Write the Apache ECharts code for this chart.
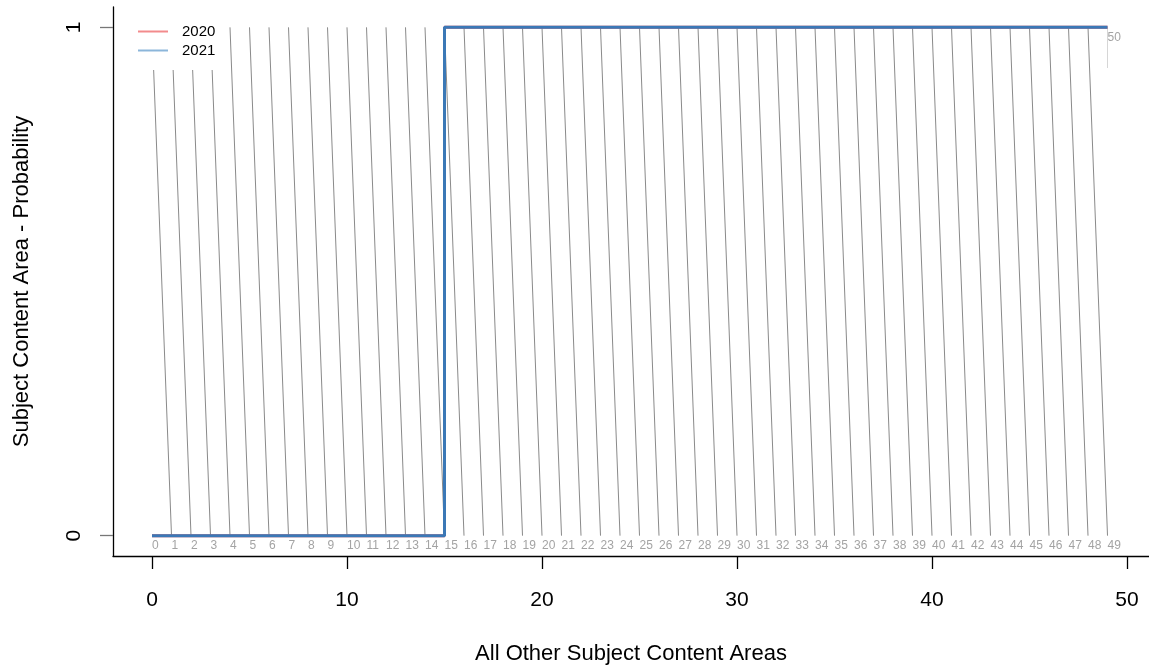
<!DOCTYPE html>
<html>
<head>
<meta charset="utf-8">
<script src="https://cdn.jsdelivr.net/npm/echarts@6/dist/echarts.min.js"></script>
<style>
html,body{margin:0;padding:0;background:#fff;}
#chart{width:1149px;height:670px;}
</style>
</head>
<body>
<div id="chart"></div>
<script>
// ---- data ----
const seriesNames = ['2020', '2021'];
const positions = [0,1,2,3,4,5,6,7,8,9,10,11,12,13,14,15,16,17,18,19,20,21,22,23,24,25,26,27,28,29,30,31,32,33,34,35,36,37,38,39,40,41,42,43,44,45,46,47,48,49];
const values2020 = [0,0,0,0,0,0,0,0,0,0,0,0,0,0,0,1,1,1,1,1,1,1,1,1,1,1,1,1,1,1,1,1,1,1,1,1,1,1,1,1,1,1,1,1,1,1,1,1,1,1];
const values2021 = [0,0,0,0,0,0,0,0,0,0,0,0,0,0,0,1,1,1,1,1,1,1,1,1,1,1,1,1,1,1,1,1,1,1,1,1,1,1,1,1,1,1,1,1,1,1,1,1,1,1];
const xTicks = [0, 10, 20, 30, 40, 50];
const yTicks = [0, 1];
const topLabelPositions = [49];
const topLabelTexts = ['50'];
const xTitle = 'All Other Subject Content Areas';
const yTitle = 'Subject Content Area - Probability';

// ---- build ----
const FONT = 'Liberation Sans, Arial, Helvetica, sans-serif';
const connectors = [];
for (let i = 0; i < positions.length - 1; i++) {
  connectors.push({ coords: [[positions[i], 1], [positions[i + 1], 0]] });
}
const topMarks = topLabelPositions.map(p => ({ coords: [[p, 1], [p, 0.92]] }));

const chart = echarts.init(document.getElementById('chart'), null, { renderer: 'canvas' });
chart.setOption({
  animation: false,
  backgroundColor: '#ffffff',
  textStyle: { fontFamily: FONT },
  grid: { left: 113, right: 0, top: 7, bottom: 112, containLabel: false },
  legend: {
    orient: 'vertical',
    left: 126, top: 18,
    padding: [6, 10, 12, 12],
    backgroundColor: '#ffffff',
    itemWidth: 30, itemHeight: 2, itemGap: 4,
    icon: 'rect',
    textStyle: { fontSize: 15, color: '#000', fontFamily: FONT, padding: [0, 0, 0, 9] },
    data: [
      { name: seriesNames[0], itemStyle: { color: '#f28b8c' } },
      { name: seriesNames[1], itemStyle: { color: '#8cb6da' } }
    ]
  },
  xAxis: {
    type: 'value', min: -2, max: 51.128,
    name: xTitle, nameLocation: 'middle', nameGap: 87,
    nameTextStyle: { fontSize: 22, color: '#000', fontFamily: FONT },
    axisLine: { show: true, onZero: false, lineStyle: { color: '#000', width: 1.3 } },
    axisTick: { show: true, customValues: xTicks, length: 13, lineStyle: { color: '#000', width: 1.3 } },
    axisLabel: { customValues: xTicks, fontSize: 21, color: '#000', margin: 34, fontFamily: FONT },
    splitLine: { show: false }
  },
  yAxis: {
    type: 'value', min: -0.04, max: 1.04,
    name: yTitle, nameLocation: 'middle', nameGap: 80,
    nameTextStyle: { fontSize: 22, color: '#000', fontFamily: FONT },
    axisLine: { show: true, onZero: false, lineStyle: { color: '#000', width: 1.3 } },
    axisTick: { show: true, customValues: yTicks, length: 13, lineStyle: { color: '#777', width: 1.3 } },
    axisLabel: { customValues: yTicks, fontSize: 21, color: '#000', margin: 28, rotate: 90, fontFamily: FONT },
    splitLine: { show: false }
  },
  series: [
    {
      type: 'lines', coordinateSystem: 'cartesian2d', silent: true, z: 1,
      lineStyle: { color: '#8a8a8a', width: 1, opacity: 1 },
      data: connectors
    },
    {
      type: 'lines', coordinateSystem: 'cartesian2d', silent: true, z: 1,
      lineStyle: { color: '#d6d6d6', width: 1, opacity: 1 },
      data: topMarks
    },
    {
      type: 'scatter', silent: true, symbolSize: 0, z: 3,
      data: positions.map(p => [p, 0]),
      label: {
        show: true, position: [0, 4], align: 'left', verticalAlign: 'top',
        formatter: p => String(p.value[0]), fontSize: 12, color: '#8c8c8c', fontFamily: FONT
      }
    },
    {
      type: 'scatter', silent: true, symbolSize: 0, z: 3,
      data: topLabelPositions.map((p, i) => ({ value: [p, 1], text: topLabelTexts[i] })),
      label: {
        show: true, position: [0, 4], align: 'left', verticalAlign: 'top',
        formatter: p => p.data.text, fontSize: 12, color: '#8c8c8c', fontFamily: FONT
      }
    },
    {
      name: seriesNames[0], type: 'line', step: 'end', showSymbol: false, symbol: 'none', z: 4,
      lineStyle: { color: '#e8595c', width: 3 }, itemStyle: { color: '#e8595c' },
      data: positions.map((p, i) => [p, values2020[i]])
    },
    {
      name: seriesNames[1], type: 'line', step: 'end', showSymbol: false, symbol: 'none', z: 5,
      lineStyle: { color: '#3b78b6', width: 3 }, itemStyle: { color: '#3b78b6' },
      data: positions.map((p, i) => [p, values2021[i]])
    }
  ]
});
</script>
</body>
</html>
